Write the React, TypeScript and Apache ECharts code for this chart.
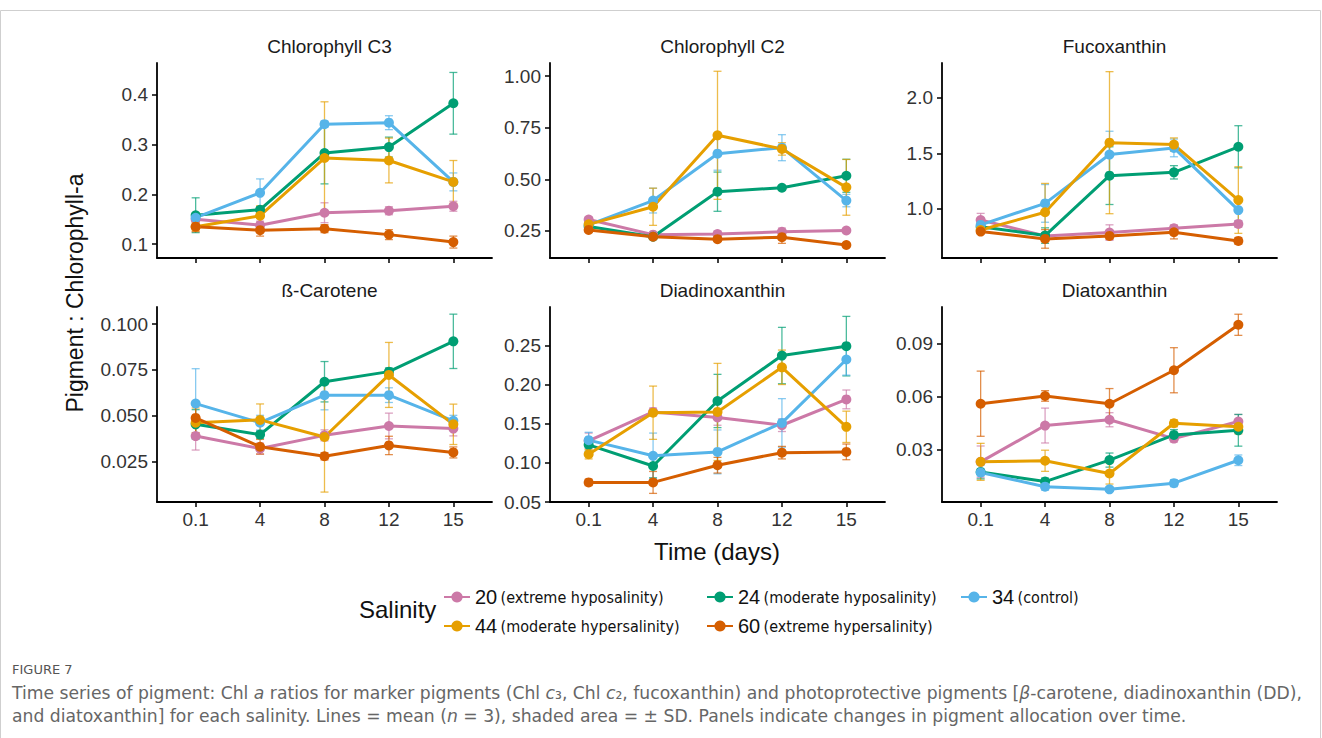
import React, { useEffect, useRef } from 'react';
import * as echarts from 'echarts';

// ---------- data ----------
const TIME_LABELS = ['0.1', '4', '8', '12', '15'];
const SALINITY = ['20', '24', '34', '44', '60'];
const SALINITY_DESC = [
  '(extreme hyposalinity)',
  '(moderate hyposalinity)',
  '(control)',
  '(moderate hypersalinity)',
  '(extreme hypersalinity)',
];
const COLORS = ['#CC79A7', '#009E73', '#56B4E9', '#E69F00', '#D55E00'];
const PANEL_TITLES = ['Chlorophyll C3', 'Chlorophyll C2', 'Fucoxanthin', 'ß-Carotene', 'Diadinoxanthin', 'Diatoxanthin'];

// rows: salinity 20, 24, 34, 44, 60 ; columns: time 0.1, 4, 8, 12, 15
const CHLC3_MEAN = [
  [0.150, 0.138, 0.163, 0.167, 0.176],
  [0.158, 0.169, 0.283, 0.295, 0.383],
  [0.153, 0.203, 0.341, 0.344, 0.225],
  [0.135, 0.157, 0.273, 0.268, 0.225],
  [0.135, 0.128, 0.131, 0.119, 0.104],
];
const CHLC3_SD = [
  [0.010, 0.008, 0.020, 0.008, 0.010],
  [0.035, 0.006, 0.062, 0.020, 0.062],
  [0.008, 0.028, 0.006, 0.014, 0.018],
  [0.008, 0.020, 0.113, 0.045, 0.043],
  [0.010, 0.012, 0.008, 0.010, 0.012],
];
const CHLC2_MEAN = [
  [0.305, 0.232, 0.235, 0.246, 0.252],
  [0.271, 0.222, 0.440, 0.459, 0.517],
  [0.279, 0.397, 0.624, 0.653, 0.397],
  [0.282, 0.367, 0.713, 0.647, 0.461],
  [0.255, 0.222, 0.210, 0.220, 0.182],
];
const CHLC2_SD = [
  [0.012, 0.010, 0.015, 0.018, 0.008],
  [0.015, 0.012, 0.095, 0.010, 0.080],
  [0.015, 0.060, 0.080, 0.063, 0.030],
  [0.012, 0.090, 0.310, 0.030, 0.135],
  [0.010, 0.012, 0.010, 0.030, 0.006],
];
const FUCO_MEAN = [
  [0.900, 0.757, 0.787, 0.826, 0.865],
  [0.840, 0.760, 1.300, 1.330, 1.560],
  [0.856, 1.050, 1.490, 1.550, 0.990],
  [0.810, 0.970, 1.597, 1.580, 1.080],
  [0.796, 0.730, 0.757, 0.790, 0.712],
];
const FUCO_SD = [
  [0.06, 0.03, 0.07, 0.03, 0.03],
  [0.04, 0.07, 0.26, 0.06, 0.19],
  [0.03, 0.17, 0.21, 0.08, 0.10],
  [0.03, 0.26, 0.64, 0.06, 0.30],
  [0.02, 0.084, 0.03, 0.06, 0.03],
];
const BCAR_MEAN = [
  [0.0390, 0.0322, 0.0394, 0.0445, 0.0431],
  [0.0454, 0.0398, 0.0686, 0.0741, 0.0906],
  [0.0567, 0.0463, 0.0613, 0.0613, 0.0473],
  [0.0463, 0.0478, 0.0385, 0.0723, 0.0454],
  [0.0489, 0.0332, 0.0280, 0.0339, 0.0301],
];
const BCAR_SD = [
  [0.0076, 0.0030, 0.0030, 0.0070, 0.0040],
  [0.0080, 0.0020, 0.0110, 0.0020, 0.0148],
  [0.0190, 0.0040, 0.0080, 0.0040, 0.0030],
  [0.0080, 0.0087, 0.0300, 0.0177, 0.0110],
  [0.0080, 0.0040, 0.0020, 0.0050, 0.0030],
];
const DD_MEAN = [
  [0.128, 0.165, 0.158, 0.148, 0.181],
  [0.123, 0.096, 0.179, 0.237, 0.249],
  [0.129, 0.109, 0.114, 0.151, 0.232],
  [0.111, 0.164, 0.165, 0.222, 0.146],
  [0.075, 0.075, 0.097, 0.113, 0.114],
];
const DD_SD = [
  [0.010, 0.005, 0.010, 0.008, 0.012],
  [0.008, 0.015, 0.034, 0.036, 0.038],
  [0.010, 0.029, 0.028, 0.031, 0.020],
  [0.006, 0.034, 0.062, 0.022, 0.020],
  [0.004, 0.014, 0.010, 0.008, 0.010],
];
const DT_MEAN = [
  [0.0231, 0.0437, 0.0470, 0.0363, 0.0460],
  [0.0174, 0.0119, 0.0241, 0.0384, 0.0410],
  [0.0170, 0.0090, 0.0075, 0.0110, 0.0240],
  [0.0231, 0.0237, 0.0165, 0.0450, 0.0430],
  [0.0561, 0.0605, 0.0561, 0.0751, 0.1009],
];
const DT_SD = [
  [0.0090, 0.0099, 0.0040, 0.0020, 0.0040],
  [0.0040, 0.0020, 0.0040, 0.0030, 0.0090],
  [0.0020, 0.0020, 0.0010, 0.0020, 0.0030],
  [0.0105, 0.0060, 0.0060, 0.0020, 0.0040],
  [0.0185, 0.0030, 0.0086, 0.0128, 0.0060],
];

const CHLC3_TICKS = [0.1, 0.2, 0.3, 0.4];
const CHLC2_TICKS = [0.25, 0.5, 0.75, 1.0];
const FUCO_TICKS = [1.0, 1.5, 2.0];
const BCAR_TICKS = [0.025, 0.05, 0.075, 0.1];
const DD_TICKS = [0.05, 0.1, 0.15, 0.2, 0.25];
const DT_TICKS = [0.03, 0.06, 0.09];

// ---------- layout ----------
const PANELS = [
  { mean: CHLC3_MEAN, sd: CHLC3_SD, ticks: CHLC3_TICKS, dec: 1, min: 0.072, max: 0.464 },
  { mean: CHLC2_MEAN, sd: CHLC2_SD, ticks: CHLC2_TICKS, dec: 2, min: 0.119, max: 1.063 },
  { mean: FUCO_MEAN, sd: FUCO_SD, ticks: FUCO_TICKS, dec: 1, min: 0.558, max: 2.315 },
  { mean: BCAR_MEAN, sd: BCAR_SD, ticks: BCAR_TICKS, dec: 3, min: 0.0031, max: 0.1093 },
  { mean: DD_MEAN, sd: DD_SD, ticks: DD_TICKS, dec: 2, min: 0.05, max: 0.299 },
  { mean: DT_MEAN, sd: DT_SD, ticks: DT_TICKS, dec: 2, min: 0.0003, max: 0.111 },
];
const COL_LEFT = [157, 550, 942];
const ROW_TOP = [63, 307];
const GRID_W = 335;
const GRID_H = 195;

const FONT = '"Liberation Sans", Arial, Helvetica, sans-serif';
const NARROW = '"Liberation Sans Narrow", "DejaVu Sans Condensed", "Liberation Sans", sans-serif';
const CAPTION_FONT = '"DejaVu Sans", "Open Sans", sans-serif';

function buildOption() {
  const grids: any[] = [];
  const xAxes: any[] = [];
  const yAxes: any[] = [];
  const series: any[] = [];
  const titles: any[] = [];
  const xIdx = TIME_LABELS.map((_, i) => i);

  PANELS.forEach((p, pi) => {
    const row = Math.floor(pi / 3);
    const col = pi % 3;
    grids.push({ left: COL_LEFT[col], top: ROW_TOP[row], width: GRID_W, height: GRID_H, containLabel: false });
    titles.push({
      text: PANEL_TITLES[pi],
      left: COL_LEFT[col] + GRID_W / 2,
      top: ROW_TOP[row] - 31,
      textAlign: 'center',
      textStyle: { fontSize: 19, fontWeight: 'normal', color: '#1a1a1a', fontFamily: FONT },
    });
    xAxes.push({
      gridIndex: pi,
      type: 'value',
      min: -0.6,
      max: 4.6,
      splitLine: { show: false },
      axisLine: { show: true, onZero: false, lineStyle: { color: '#000', width: 1.8 } },
      axisTick: { show: true, length: 5, customValues: xIdx, lineStyle: { color: '#000', width: 1.5 } },
      axisLabel: {
        show: row === 1,
        customValues: xIdx,
        formatter: (v: number) => TIME_LABELS[Math.round(v)] ?? '',
        fontSize: 19,
        color: '#333',
        margin: 8,
        fontFamily: FONT,
      },
    });
    yAxes.push({
      gridIndex: pi,
      type: 'value',
      min: p.min,
      max: p.max,
      splitLine: { show: false },
      axisLine: { show: true, onZero: false, lineStyle: { color: '#000', width: 1.8 } },
      axisTick: { show: true, length: 5, customValues: p.ticks, lineStyle: { color: '#000', width: 1.5 } },
      axisLabel: {
        customValues: p.ticks,
        formatter: (v: number) => v.toFixed(p.dec),
        fontSize: 19,
        color: '#333',
        margin: 9,
        fontFamily: FONT,
      },
    });

    SALINITY.forEach((sal, si) => {
      const color = COLORS[si];
      series.push({
        type: 'custom',
        name: sal + ' sd',
        xAxisIndex: pi,
        yAxisIndex: pi,
        z: 2,
        silent: true,
        data: p.mean[si].map((m, i) => [i, m, p.sd[si][i]]),
        encode: { x: 0, y: 1 },
        renderItem: (params: any, api: any) => {
          const x = api.value(0);
          const m = api.value(1);
          const s = api.value(2);
          const top = api.coord([x, m + s]);
          const bot = api.coord([x, m - s]);
          const hw = 4;
          const style = { stroke: color, lineWidth: 1.3, opacity: 0.7 };
          return {
            type: 'group',
            children: [
              { type: 'line', shape: { x1: top[0], y1: top[1], x2: bot[0], y2: bot[1] }, style },
              { type: 'line', shape: { x1: top[0] - hw, y1: top[1], x2: top[0] + hw, y2: top[1] }, style },
              { type: 'line', shape: { x1: bot[0] - hw, y1: bot[1], x2: bot[0] + hw, y2: bot[1] }, style },
            ],
          };
        },
      });
    });
    SALINITY.forEach((sal, si) => {
      const color = COLORS[si];
      series.push({
        type: 'line',
        name: sal,
        xAxisIndex: pi,
        yAxisIndex: pi,
        z: 3,
        data: p.mean[si].map((m, i) => [i, m]),
        symbol: 'circle',
        symbolSize: 10,
        lineStyle: { width: 3, color },
        itemStyle: { color },
      });
    });
  });

  const legendPos = [
    { left: 443, top: 587 },
    { left: 706, top: 587 },
    { left: 960, top: 587 },
    { left: 443, top: 616 },
    { left: 706, top: 616 },
  ];
  const legends = SALINITY.map((sal, si) => ({
    data: [sal],
    left: legendPos[si].left,
    top: legendPos[si].top,
    padding: 0,
    itemWidth: 26,
    itemHeight: 14,
    selectedMode: false,
    formatter: (name: string) => `{n|${name}} {d|${SALINITY_DESC[SALINITY.indexOf(name)]}}`,
    textStyle: {
      color: '#111',
      rich: {
        n: { fontSize: 20, fontFamily: FONT, color: '#111' },
        d: { fontSize: 16, fontFamily: NARROW, color: '#111' },
      },
    },
  }));

  const captionStyle = {
    fontSize: 17.2,
    lineHeight: 19,
    fill: '#666',
    align: 'left',
    verticalAlign: 'middle',
    fontFamily: CAPTION_FONT,
    rich: { i: { fontStyle: 'italic', fontSize: 17.2, lineHeight: 19, fill: '#666', fontFamily: CAPTION_FONT } },
  };

  const graphic: any[] = [
    {
      type: 'rect',
      shape: { x: 0.5, y: 10.5, width: 1320, height: 740 },
      style: { fill: 'none', stroke: '#cfcfcf', lineWidth: 1 },
      silent: true,
    },
    {
      type: 'text',
      x: 75,
      y: 293,
      rotation: Math.PI / 2,
      style: { text: 'Pigment : Chlorophyll-a', fontSize: 23, fill: '#111', align: 'center', verticalAlign: 'middle', fontFamily: FONT },
    },
    {
      type: 'text',
      x: 717,
      y: 551,
      style: { text: 'Time (days)', fontSize: 24, fill: '#111', align: 'center', verticalAlign: 'middle', fontFamily: FONT },
    },
    {
      type: 'text',
      x: 359,
      y: 609,
      style: { text: 'Salinity', fontSize: 24, fill: '#111', align: 'left', verticalAlign: 'middle', fontFamily: FONT },
    },
    {
      type: 'text',
      x: 12,
      y: 669,
      style: { text: 'FIGURE 7', fontSize: 13, lineHeight: 15, fill: '#555', align: 'left', verticalAlign: 'middle', fontFamily: CAPTION_FONT },
    },
    {
      type: 'text',
      x: 12,
      y: 693,
      style: {
        ...captionStyle,
        text:
          'Time series of pigment: Chl {i|a} ratios for marker pigments (Chl {i|c}₃, Chl {i|c}₂, fucoxanthin) and photoprotective pigments [{i|β}-carotene, diadinoxanthin (DD),',
      },
    },
    {
      type: 'text',
      x: 12,
      y: 716,
      style: {
        ...captionStyle,
        text:
          'and diatoxanthin] for each salinity. Lines = mean ({i|n} = 3), shaded area = ± SD. Panels indicate changes in pigment allocation over time.',
      },
    },
  ];

  return {
    animation: false,
    backgroundColor: '#fff',
    textStyle: { fontFamily: FONT },
    title: titles,
    grid: grids,
    xAxis: xAxes,
    yAxis: yAxes,
    legend: legends,
    series,
    graphic,
  };
}

export default function App() {
  const ref = useRef<HTMLDivElement>(null);
  useEffect(() => {
    if (!ref.current) return;
    const chart = echarts.init(ref.current, null, { renderer: 'svg' });
    chart.setOption(buildOption() as any);
    return () => {
      chart.dispose();
    };
  }, []);
  return (
    <div
      ref={ref}
      style={{ position: 'fixed', left: 0, top: 0, width: 1322, height: 738, background: '#fff' }}
    />
  );
}
